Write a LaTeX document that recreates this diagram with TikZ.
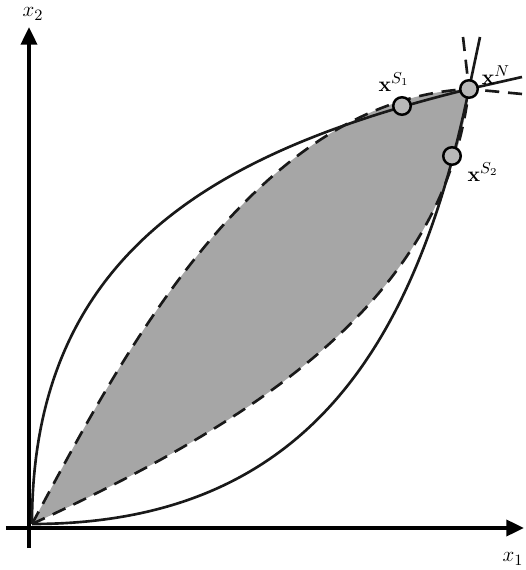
\documentclass[tikz,border=0pt]{standalone}
\usepackage{amsmath,amssymb}
\usepackage{xcolor}
\usepackage{tikz}
\usetikzlibrary{arrows.meta,positioning}

\begin{document}
\begin{tikzpicture}[
  every node/.style={font=\fontsize{13}{15}\selectfont},
  axis/.style={line width=2.2pt, -{Triangle[length=10pt,width=9pt]}},
  front/.style={line width=1.5pt, black!90},
  dfront/.style={line width=1.5pt, black!90, dash pattern=on 8pt off 5pt},
  region/.style={fill=black!35},
  pt/.style={circle, draw, line width=1.4pt, fill=black!28, minimum size=10pt, inner sep=0pt}
]
\useasboundingbox (-0.58,-0.84) rectangle (9.92,10.56);
\coordinate (O)  at (0.06,0.08);
\coordinate (N)  at (8.80,8.78);
\coordinate (S1) at (7.46,8.44);
\coordinate (S2) at (8.46,7.44);
% axes
\coordinate (X0) at (-0.46,0);
\coordinate (X1) at (9.90,0);
\coordinate (Y0) at (0,-0.40);
\coordinate (Y1) at (0,10.02);
\draw[axis] (X0) -- (X1);
\draw[axis] (Y0) -- (Y1);
\node (lx1) at (9.68,-0.62) {$x_1$};
\node (lx2) at (0.08,10.28) {$x_2$};
% shaded set between the dashed fronts
\fill[region] (O) .. controls (1.72,3.16) and (4.42,8.56) .. (N)
              .. controls (8.32,4.76) and (5.02,2.36) .. (O);
\draw[dfront] (O) .. controls (1.72,3.16) and (4.42,8.56) .. (N);
\draw[dfront] (O) .. controls (5.02,2.36) and (8.32,4.76) .. (N);
% solid fronts
\draw[front] (O) .. controls (0.06,5.56) and (3.82,7.56) .. (N);
\draw[front] (O) .. controls (5.42,0.08) and (7.70,3.48) .. (N);
% lines at the nadir point
\coordinate (ta) at (9.02,9.82);
\coordinate (tb) at (9.86,9.02);
\coordinate (tc) at (8.68,9.82);
\coordinate (td) at (9.86,8.68);
\draw[front] (N) -- (ta);
\draw[front] (N) -- (tb);
\draw[dfront] (tc) -- (N);
\draw[dfront] (td) -- (N);
% points
\node[pt] (pS1) at (S1) {};
\node[pt] (pS2) at (S2) {};
\node[pt] (pN)  at (N)  {};
\node (lS1) at (7.30,8.92) {$\mathbf{x}^{S_1}$};
\node (lN)  at (9.34,9.06) {$\mathbf{x}^{N}$};
\node (lS2) at (9.08,7.12) {$\mathbf{x}^{S_2}$};
\end{tikzpicture}
\end{document}
